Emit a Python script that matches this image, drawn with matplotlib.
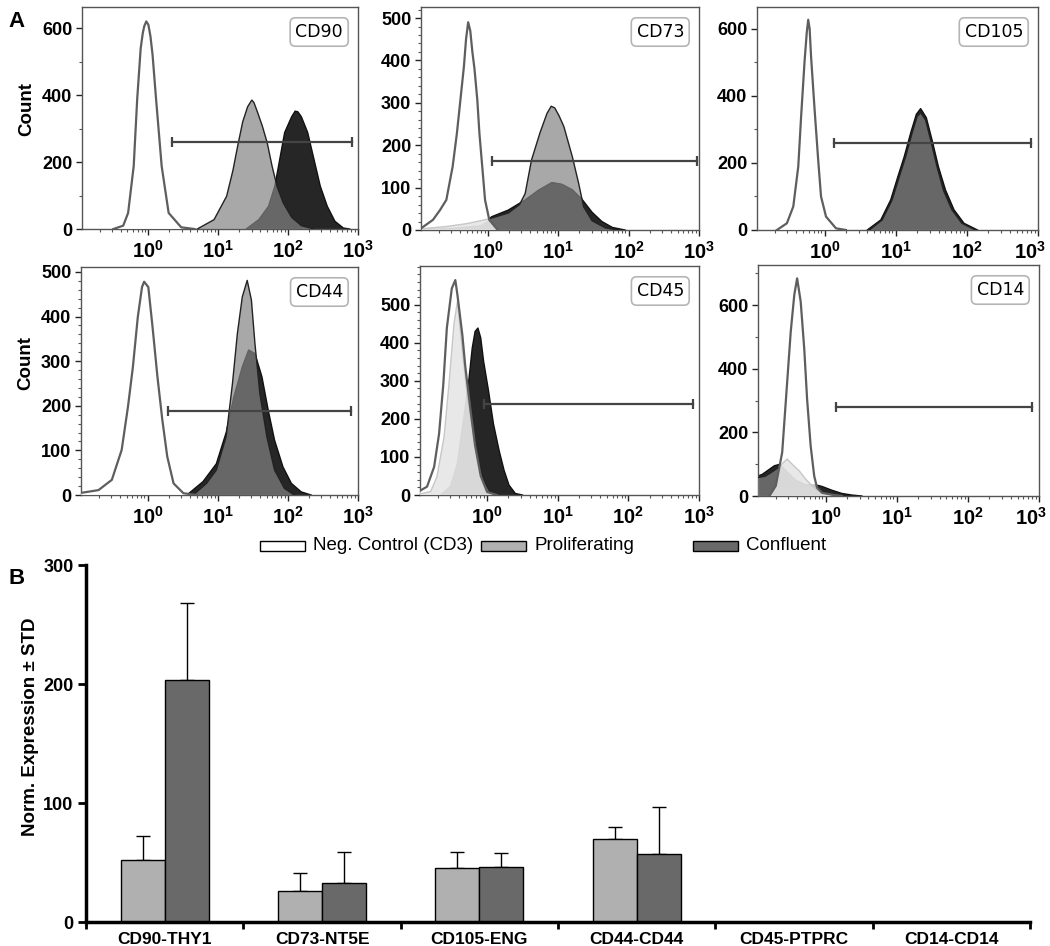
import matplotlib
matplotlib.use('Agg')
import matplotlib.pyplot as plt
import matplotlib.transforms as mtransforms
import numpy as np
from matplotlib.ticker import FixedLocator, FixedFormatter, AutoMinorLocator, LogLocator, NullFormatter
from matplotlib.patches import Rectangle

plt.rcParams['font.family'] = ['Liberation Sans', 'DejaVu Sans']
plt.rcParams['mathtext.fontset'] = 'custom'
plt.rcParams['mathtext.bf'] = 'Liberation Sans:bold'
plt.rcParams['mathtext.rm'] = 'Liberation Sans'

# ---- panel A: flow histograms, x in log10(intensity), y in counts ----
CD90_NEG_LOG = [-0.50, -0.36, -0.29, -0.21, -0.16, -0.11, -0.08, -0.06, -0.03, 0.00, 0.03, 0.06, 0.11, 0.19, 0.29, 0.47, 0.66]
CD90_NEG_CNT = [0, 10, 48, 188, 388, 540, 585, 605, 620, 610, 575, 520, 388, 188, 48, 5, 0]
CD90_PRO_LOG = [0.70, 0.94, 1.12, 1.21, 1.28, 1.35, 1.42, 1.48, 1.51, 1.56, 1.63, 1.70, 1.77, 1.84, 1.93, 2.05, 2.19, 2.37]
CD90_PRO_CNT = [0, 28, 98, 175, 250, 320, 365, 385, 378, 350, 308, 258, 188, 128, 78, 35, 10, 0]
CD90_CON_LOG = [1.40, 1.58, 1.72, 1.81, 1.88, 1.95, 2.05, 2.10, 2.14, 2.19, 2.28, 2.37, 2.46, 2.56, 2.67, 2.79, 2.88]
CD90_CON_CNT = [0, 28, 68, 128, 208, 288, 335, 352, 350, 335, 288, 208, 128, 68, 23, 3, 0]

CD73_NEG_LOG = [-0.94, -0.78, -0.68, -0.59, -0.50, -0.44, -0.39, -0.34, -0.31, -0.28, -0.25, -0.22, -0.19, -0.15, -0.12, -0.08, -0.04, 0.02, 0.14]
CD73_NEG_CNT = [5, 24, 47, 71, 150, 228, 307, 386, 450, 490, 470, 420, 380, 307, 228, 150, 71, 24, 0]
CD73_PRO_LOG = [-0.94, -0.60, -0.30, -0.10, 0.05, 0.29, 0.45, 0.53, 0.62, 0.74, 0.84, 0.90, 0.95, 1.01, 1.08, 1.20, 1.29, 1.36, 1.48, 1.67, 1.85]
CD73_PRO_CNT = [3, 8, 15, 22, 28, 40, 60, 86, 165, 229, 275, 292, 288, 270, 244, 173, 110, 55, 22, 5, 0]
CD73_CON_LOG = [-0.94, -0.50, -0.10, 0.00, 0.05, 0.29, 0.53, 0.72, 0.91, 1.05, 1.20, 1.34, 1.48, 1.62, 1.77, 1.95]
CD73_CON_CNT = [1, 4, 10, 20, 31, 47, 71, 94, 112, 108, 95, 72, 42, 20, 6, 0]

CD105_NEG_LOG = [-0.67, -0.53, -0.44, -0.37, -0.33, -0.28, -0.25, -0.23, -0.21, -0.19, -0.14, -0.09, -0.05, 0.02, 0.16, 0.30]
CD105_NEG_CNT = [0, 20, 70, 189, 338, 507, 590, 627, 600, 517, 358, 209, 100, 40, 5, 0]
CD105_PRO_LOG = [0.63, 0.81, 0.95, 1.05, 1.14, 1.23, 1.30, 1.35, 1.42, 1.49, 1.58, 1.67, 1.79, 1.93, 2.12]
CD105_PRO_CNT = [0, 30, 90, 159, 219, 289, 338, 350, 328, 269, 189, 119, 60, 20, 0]
CD105_CON_LOG = [0.60, 0.79, 0.93, 1.03, 1.12, 1.21, 1.29, 1.35, 1.43, 1.51, 1.60, 1.70, 1.82, 1.96, 2.15]
CD105_CON_CNT = [0, 30, 90, 159, 219, 289, 345, 362, 335, 269, 189, 119, 60, 20, 0]

CD44_NEG_LOG = [-0.98, -0.70, -0.51, -0.37, -0.28, -0.21, -0.14, -0.08, -0.05, 0.01, 0.07, 0.14, 0.21, 0.28, 0.37, 0.51, 0.70]
CD44_NEG_CNT = [4, 11, 34, 101, 198, 287, 399, 466, 478, 466, 377, 265, 168, 86, 26, 4, 0]
CD44_PRO_LOG = [0.65, 0.84, 0.98, 1.12, 1.21, 1.28, 1.35, 1.42, 1.48, 1.53, 1.60, 1.70, 1.81, 1.95, 2.09]
CD44_PRO_CNT = [0, 26, 56, 131, 250, 362, 444, 481, 437, 340, 228, 131, 56, 15, 0]
CD44_CON_LOG = [0.56, 0.79, 0.98, 1.12, 1.23, 1.35, 1.44, 1.53, 1.63, 1.72, 1.81, 1.93, 2.05, 2.19, 2.33]
CD44_CON_CNT = [0, 30, 70, 140, 220, 287, 325, 317, 265, 190, 123, 63, 26, 7, 0]

CD45_NEG_LOG = [-0.97, -0.85, -0.75, -0.68, -0.62, -0.57, -0.50, -0.45, -0.42, -0.35, -0.31, -0.24, -0.17, -0.09, 0.00, 0.14]
CD45_NEG_CNT = [9, 22, 74, 161, 291, 439, 543, 565, 526, 420, 340, 230, 130, 50, 8, 0]
CD45_PRO_LOG = [-0.97, -0.80, -0.71, -0.61, -0.54, -0.47, -0.42, -0.35, -0.28, -0.21, -0.14, -0.05, 0.05, 0.14]
CD45_PRO_CNT = [2, 9, 48, 152, 291, 448, 509, 380, 260, 180, 100, 40, 5, 0]
CD45_CON_LOG = [-0.66, -0.52, -0.42, -0.33, -0.26, -0.21, -0.17, -0.13, -0.09, -0.05, 0.02, 0.09, 0.17, 0.24, 0.31, 0.40, 0.50]
CD45_CON_CNT = [0, 22, 83, 204, 300, 387, 430, 439, 413, 352, 274, 187, 117, 65, 26, 4, 0]

CD14_NEG_LOG = [-0.79, -0.70, -0.61, -0.54, -0.49, -0.44, -0.40, -0.35, -0.30, -0.26, -0.21, -0.16, -0.12, -0.05, 0.09, 0.23]
CD14_NEG_CNT = [0, 32, 137, 358, 516, 632, 684, 611, 463, 305, 158, 63, 26, 10, 4, 0]
CD14_PRO_LOG = [-0.95, -0.85, -0.75, -0.65, -0.58, -0.54, -0.47, -0.37, -0.28, -0.19, -0.12, -0.05, 0.14, 0.33]
CD14_PRO_CNT = [58, 62, 76, 92, 108, 116, 100, 79, 53, 32, 19, 10, 4, 0]
CD14_CON_LOG = [-0.95, -0.89, -0.79, -0.72, -0.64, -0.56, -0.42, -0.28, -0.14, -0.05, 0.09, 0.23, 0.37, 0.51]
CD14_CON_CNT = [63, 68, 84, 95, 100, 80, 50, 35, 35, 30, 18, 8, 3, 0]

# gates: (log start, log end, count level)
GATES = [(0.34, 2.92, 260), (0.06, 2.97, 163), (0.13, 2.90, 260),
         (0.29, 2.90, 188), (-0.04, 2.92, 240), (0.14, 2.90, 280)]
MARKERS = ['CD90', 'CD73', 'CD105', 'CD44', 'CD45', 'CD14']

# ---- panel B: bar chart ----
GENES = ['CD90-THY1', 'CD73-NT5E', 'CD105-ENG', 'CD44-CD44', 'CD45-PTPRC', 'CD14-CD14']
PROLIF = [52, 26, 45, 70, 0, 0]
PROLIF_ERR = [20, 15, 14, 10, 0, 0]
CONFL = [203, 33, 46, 57, 0, 0]
CONFL_ERR = [65, 26, 12, 40, 0, 0]

fig = plt.figure(figsize=(10.5, 9.46), dpi=100)
W, H = 1050.0, 946.0

def px_axes(x0, y0, x1, y1):
    return fig.add_axes([x0 / W, 1 - y1 / H, (x1 - x0) / W, (y1 - y0) / H])

panels = [
    (MARKERS[0], (CD90_NEG_LOG, CD90_NEG_CNT), (CD90_PRO_LOG, CD90_PRO_CNT), (CD90_CON_LOG, CD90_CON_CNT), GATES[0], 663, [0, 200, 400, 600], 2, (82, 7, 358, 229)),
    (MARKERS[1], (CD73_NEG_LOG, CD73_NEG_CNT), (CD73_PRO_LOG, CD73_PRO_CNT), (CD73_CON_LOG, CD73_CON_CNT), GATES[1], 526, [0, 100, 200, 300, 400, 500], 5, (421, 7, 699, 230)),
    (MARKERS[2], (CD105_NEG_LOG, CD105_NEG_CNT), (CD105_PRO_LOG, CD105_PRO_CNT), (CD105_CON_LOG, CD105_CON_CNT), GATES[2], 665, [0, 200, 400, 600], 2, (757, 7, 1038, 230)),
    (MARKERS[3], (CD44_NEG_LOG, CD44_NEG_CNT), (CD44_PRO_LOG, CD44_PRO_CNT), (CD44_CON_LOG, CD44_CON_CNT), GATES[3], 511, [0, 100, 200, 300, 400, 500], 5, (81, 267, 358, 495)),
    (MARKERS[4], (CD45_NEG_LOG, CD45_NEG_CNT), (CD45_PRO_LOG, CD45_PRO_CNT), (CD45_CON_LOG, CD45_CON_CNT), GATES[4], 602, [0, 100, 200, 300, 400, 500], 5, (420, 266, 699, 495)),
    (MARKERS[5], (CD14_NEG_LOG, CD14_NEG_CNT), (CD14_PRO_LOG, CD14_PRO_CNT), (CD14_CON_LOG, CD14_CON_CNT), GATES[5], 726, [0, 200, 400, 600], 2, (758, 265, 1039, 496)),
]

for i, (name, neg, pro, con, gate, ymax, yt, nmin, box) in enumerate(panels):
    ax = px_axes(*box)
    # confluent (dark) at the back
    x = 10 ** np.array(con[0])
    ax.fill_between(x, 0, con[1], facecolor='#262626', lw=0, zorder=2)
    ax.plot(x, con[1], color='#111111', lw=1.0, zorder=2.1)
    # proliferating, semi transparent
    x = 10 ** np.array(pro[0])
    ax.fill_between(x, 0, pro[1], facecolor='#848484', alpha=0.7, lw=0, zorder=3)
    ax.plot(x, pro[1], color='#222222', lw=1.0, zorder=3.1)
    # negative control on top
    x = 10 ** np.array(neg[0])
    ax.fill_between(x, 0, neg[1], facecolor='white', alpha=0.75, lw=0, zorder=4)
    ax.plot(x, neg[1], color='#5e5e5e', lw=1.6, zorder=4.1)

    # gate
    g0, g1, gy = gate
    ax.plot([10 ** g0, 10 ** g1], [gy, gy], color='#444444', lw=1.6, zorder=5)
    ax.plot([10 ** g0, 10 ** g1], [gy, gy], ls='none', marker='|', ms=7, mew=1.6, color='#444444', zorder=5)

    ax.set_xscale('log')
    ax.set_xlim(10 ** -0.95, 10 ** 3)
    ax.set_ylim(0, ymax)
    ax.xaxis.set_major_locator(FixedLocator([1, 10, 100, 1000]))
    ax.xaxis.set_major_formatter(FixedFormatter([r'$\mathbf{10^0}$', r'$\mathbf{10^1}$', r'$\mathbf{10^2}$', r'$\mathbf{10^3}$']))
    ax.xaxis.set_minor_locator(LogLocator(base=10, subs=np.arange(2, 10), numticks=20))
    ax.xaxis.set_minor_formatter(NullFormatter())
    ax.yaxis.set_major_locator(FixedLocator(yt))
    ax.yaxis.set_minor_locator(AutoMinorLocator(nmin))
    ax.tick_params(axis='both', which='major', labelsize=13, direction='out', length=4, width=1, pad=3, colors='#222222', labelcolor='black')
    ax.tick_params(axis='x', which='major', labelsize=14.5, pad=4)
    ax.tick_params(axis='both', which='minor', direction='out', length=2.5, width=0.8, colors='#555555')
    for lab in ax.get_yticklabels():
        lab.set_fontweight('bold')
    if i in (2, 5):
        # keep the last decade label inside the figure
        last = ax.get_xticklabels()[-1]
        last.set_transform(last.get_transform() + mtransforms.ScaledTranslation(-8 / 100, 0, fig.dpi_scale_trans))
    for sp in ax.spines.values():
        sp.set_color('#555555')
        sp.set_linewidth(1.0)

    ax.annotate(name, xy=(1, 1), xycoords='axes fraction', xytext=(-15, -16), textcoords='offset pixels',
                ha='right', va='top', fontsize=12.5, family='DejaVu Sans', zorder=6,
                bbox=dict(boxstyle='round,pad=0.3', fc='white', ec='#b5b5b5', lw=1.2))

    if i in (0, 3):
        ax.set_ylabel('Count', fontsize=13.5, fontweight='bold')
        ax.yaxis.set_label_coords(-0.17, 0.54 if i == 0 else 0.58)

fig.text(8 / W, 1 - 27 / H, 'A', fontsize=16, fontweight='bold')
fig.text(8 / W, 1 - 584 / H, 'B', fontsize=16, fontweight='bold')

# legend row
leg_items = [('Neg. Control (CD3)', 'white', 260), ('Proliferating', '#b0b0b0', 481), ('Confluent', '#696969', 693)]
for lab, col, x0 in leg_items:
    fig.patches.append(Rectangle((x0 / W, 1 - 551 / H), 45 / W, 10 / H, transform=fig.transFigure,
                                 facecolor=col, edgecolor='black', lw=1.0))
    fig.text((x0 + 53) / W, 1 - 546 / H, lab, fontsize=13.5, va='center', ha='left')

# ---- bar chart ----
axb = px_axes(86, 565, 1030, 922)
xc = np.arange(len(GENES)) + 0.5
bw = 0.28
axb.bar(xc - bw / 2, PROLIF, bw, color='#b0b0b0', edgecolor='black', lw=1, zorder=2)
axb.bar(xc + bw / 2, CONFL, bw, color='#696969', edgecolor='black', lw=1, zorder=2)
pv = np.array(PROLIF); pe = np.array(PROLIF_ERR)
cv = np.array(CONFL); ce = np.array(CONFL_ERR)
m = pv > 0
axb.errorbar(xc[m] - bw / 2, pv[m], yerr=[np.zeros(m.sum()), pe[m]], fmt='none', ecolor='black', elinewidth=1, capsize=5, capthick=1, zorder=1)
m = cv > 0
axb.errorbar(xc[m] + bw / 2, cv[m], yerr=[np.zeros(m.sum()), ce[m]], fmt='none', ecolor='black', elinewidth=1, capsize=5, capthick=1, zorder=1)

axb.set_xlim(0, len(GENES))
axb.set_ylim(0, 300)
axb.set_yticks([0, 100, 200, 300])
axb.xaxis.set_major_locator(FixedLocator(np.arange(len(GENES) + 1)))
axb.xaxis.set_major_formatter(NullFormatter())
axb.xaxis.set_minor_locator(FixedLocator(xc))
axb.xaxis.set_minor_formatter(FixedFormatter(GENES))
axb.tick_params(axis='x', which='major', direction='out', length=5, width=2)
axb.tick_params(axis='x', which='minor', length=0, labelsize=12.5, pad=7)
axb.tick_params(axis='y', which='major', direction='out', length=6, width=2, labelsize=13, pad=3)
for lab in axb.get_xticklabels(minor=True) + axb.get_yticklabels():
    lab.set_fontweight('bold')
axb.spines['top'].set_visible(False)
axb.spines['right'].set_visible(False)
axb.spines['left'].set_linewidth(2.5)
axb.spines['bottom'].set_linewidth(2.5)
axb.set_ylabel('Norm. Expression ± STD', fontsize=13.5, fontweight='bold')
axb.yaxis.set_label_coords(-0.05, 0.546)

fig.savefig('out.png', dpi=100)
